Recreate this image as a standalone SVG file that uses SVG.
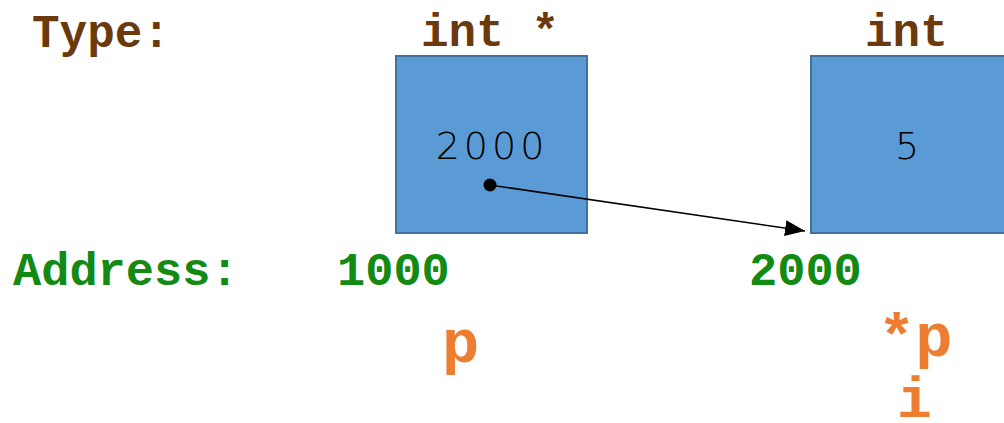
<svg xmlns="http://www.w3.org/2000/svg" width="1004" height="423" viewBox="0 0 1004 423">
<defs>
<style>
.lbl{font-family:"Liberation Mono","Courier New",monospace;font-weight:bold;}
.type{fill:#6B3A0C;font-size:46px;}
.addr{fill:#138A13;font-size:47px;}
.name{fill:#ED7D31;font-size:62px;}
.box{fill:#5B9BD5;stroke:#41719C;stroke-width:2;}
.val{font-family:"DejaVu Sans","Liberation Sans",sans-serif;font-weight:200;font-size:38px;fill:#000;}
</style>
<marker id="arrh" markerWidth="20" markerHeight="16" refX="20" refY="8" orient="auto" markerUnits="userSpaceOnUse" viewBox="0 0 20 16">
<path d="M0,0 L20,8 L0,16 z" fill="#000"/>
</marker>
</defs>
<g id="type-label"><text class="lbl type" x="32" y="47">Type:</text></g>
<g id="address-label"><text class="lbl addr" x="13" y="285">Address:</text></g>
<g id="node-p">
<text class="lbl type" x="421" y="46">int *</text>
<rect class="box" x="396" y="56" width="191" height="177"/>
<text class="val" x="492" y="159" text-anchor="middle" letter-spacing="4">2000</text>
<text class="lbl addr" x="337" y="285">1000</text>
<text class="lbl name" x="442" y="362">p</text>
</g>
<g id="node-i">
<text class="lbl type" x="865" y="46">int</text>
<rect class="box" x="811" y="56" width="200" height="177"/>
<text class="val" x="907" y="159" text-anchor="middle">5</text>
<text class="lbl addr" x="749" y="285">2000</text>
<text class="lbl name" x="878" y="356">*p</text>
<text class="lbl name" x="897" y="417" style="font-size:58px">i</text>
</g>
<g id="connectors">
<circle cx="490" cy="185" r="6.5" fill="#000"/>
<line x1="490" y1="185" x2="805" y2="231" stroke="#000" stroke-width="1.5" marker-end="url(#arrh)"/>
</g>
</svg>
